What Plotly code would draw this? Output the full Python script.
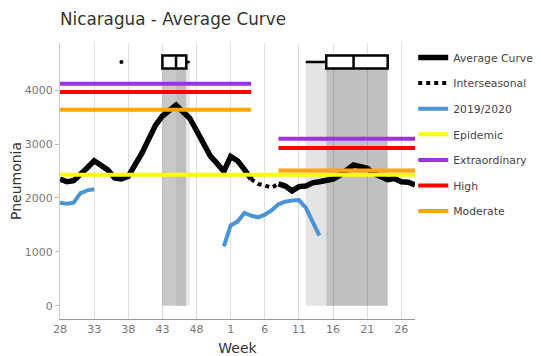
import plotly.graph_objects as go

# ---------------- data ----------------
week_labels = list(range(28, 53)) + list(range(1, 29))
x_idx = list(range(len(week_labels)))

average_curve = [2350, 2300, 2320, 2430, 2560, 2690, 2610, 2520, 2370, 2350,
                 2400, 2610, 2830, 3090, 3350, 3520, 3620, 3720, 3600, 3480,
                 3250, 3000, 2780, 2640, 2490, 2770, 2690, 2530, 2350, None,
                 None, None, 2260, 2220, 2130, 2210, 2220, 2280, 2300, 2330,
                 2350, 2420, 2530, 2610, 2580, 2550, 2450, 2390, 2340, 2360,
                 2300, 2290, 2240]
interseasonal = [None] * 28 + [2350, 2260, 2230, 2190, 2260] + [None] * 20
season_2019_2020 = ([1910, 1890, 1910, 2090, 2140, 2160] + [None] * 18 +
                    [1100, 1490, 1560, 1720, 1670, 1640, 1690, 1770, 1880, 1930,
                     1950, 1960, 1820, 1560, 1300] + [None] * 14)

epidemic_threshold = 2430
extraordinary = [4119, 3098]
high = [3965, 2926]
moderate = [3636, 2510]
season_weeks = [(28, 4), (8, 28)]   # start week, end week of each season's thresholds

peak_weeks_s1 = [37, 43, 43, 45, 45, 46, 47, 47]
peak_weeks_s2 = [12, 15, 18, 20, 24, 24]
band_weeks_s1 = [43, 45, 46.5, 47]
band_weeks_s2 = [12, 15, 24]
box_level = 4520

tick_step = 5

# ---------------- helpers ----------------
def widx(w, last=False):
    if last:
        return len(week_labels) - 1 - week_labels[::-1].index(w)
    return week_labels.index(w)

def fidx(w):
    base = int(w)
    return widx(base) + (w - base)

spans = [(widx(season_weeks[0][0]), widx(season_weeks[0][1])),
         (widx(season_weeks[1][0]), widx(season_weeks[1][1], last=True))]

def seg(vals):
    xs, ys = [], []
    for (a, b), v in zip(spans, vals):
        xs += [a, b, None]
        ys += [v, v, None]
    return xs, ys

fig = go.Figure()

fig.add_trace(go.Scatter(x=x_idx, y=average_curve, mode='lines', name='Average Curve',
                         line=dict(color='black', width=5.5), legendgroup='a'))
fig.add_trace(go.Scatter(x=x_idx, y=interseasonal, mode='lines', name='Interseasonal',
                         line=dict(color='black', width=4, dash='dot'), legendgroup='b'))
fig.add_trace(go.Scatter(x=x_idx, y=season_2019_2020, mode='lines', name='2019/2020',
                         line=dict(color='#4a94d6', width=4), legendgroup='c'))
fig.add_trace(go.Scatter(x=[x_idx[0], x_idx[-1]], y=[epidemic_threshold] * 2, mode='lines',
                         name='Epidemic', line=dict(color='#ffff00', width=4), legendgroup='d'))
for name, vals, col, g in [('Extraordinary', extraordinary, '#9b30e8', 'e'),
                           ('High', high, '#ff0000', 'f'),
                           ('Moderate', moderate, '#ffa500', 'g')]:
    xs, ys = seg(vals)
    fig.add_trace(go.Scatter(x=xs, y=ys, mode='lines', name=name,
                             line=dict(color=col, width=4), legendgroup=g))

for pw in (peak_weeks_s1, peak_weeks_s2):
    fig.add_trace(go.Box(x=[widx(w) for w in pw], y0=box_level, orientation='h', width=240,
                         fillcolor='white', line=dict(color='black', width=2.5),
                         whiskerwidth=0, marker=dict(color='black', size=4),
                         boxpoints='outliers', showlegend=False, hoverinfo='skip'))

shapes = []
for edges, cols in [(band_weeks_s1, ['#c8c8c8', '#bdbdbd', '#e6e6e6']),
                    (band_weeks_s2, ['#e4e4e4', '#c0c0c0'])]:
    for i, c in enumerate(cols):
        shapes.append(dict(type='rect', xref='x', yref='y', x0=fidx(edges[i]), x1=fidx(edges[i + 1]),
                           y0=0, y1=box_level, fillcolor=c, line=dict(width=0), layer='below'))

W, H = 533, 348
fig.update_layout(
    width=W, height=H,
    margin=dict(l=52, r=126, t=35, b=37, autoexpand=False),
    paper_bgcolor='white', plot_bgcolor='white',
    font=dict(family='DejaVu Sans', color='#444'),
    title=dict(text='Nicaragua - Average Curve', x=0, xref='paper', xanchor='left',
               y=1 - 11 / H, yref='container', yanchor='middle',
               font=dict(size=16.8, color='#333')),
    shapes=shapes,
    boxmode='overlay',
    legend=dict(x=0.995, xanchor='left', y=1.0, yanchor='top', traceorder='grouped',
                tracegroupgap=6.6, font=dict(size=10.8, color='#444'), bgcolor='rgba(0,0,0,0)'),
    xaxis=dict(range=[0, 52], tickvals=x_idx[::tick_step], automargin=False,
               ticktext=[str(week_labels[i]) for i in x_idx[::tick_step]],
               showgrid=True, gridcolor='rgba(0,0,0,0.13)', gridwidth=1,
               showline=True, linecolor='#999', linewidth=1, zeroline=False, ticks='',
               tickfont=dict(size=11, color='#777'),
               title=dict(text='Week', font=dict(size=14, color='#333'), standoff=12)),
    yaxis=dict(range=[-247, 4874], tickvals=[0, 1000, 2000, 3000, 4000], automargin=False,
               showgrid=False, showline=True, linecolor='#ccc', linewidth=1, zeroline=False,
               ticks='outside', ticklen=4, tickcolor='#bbb',
               tickfont=dict(size=11, color='#777'),
               title=dict(text='Pneumonia', font=dict(size=14, color='#333'), standoff=2)),
)

fig.write_html('out.html')
